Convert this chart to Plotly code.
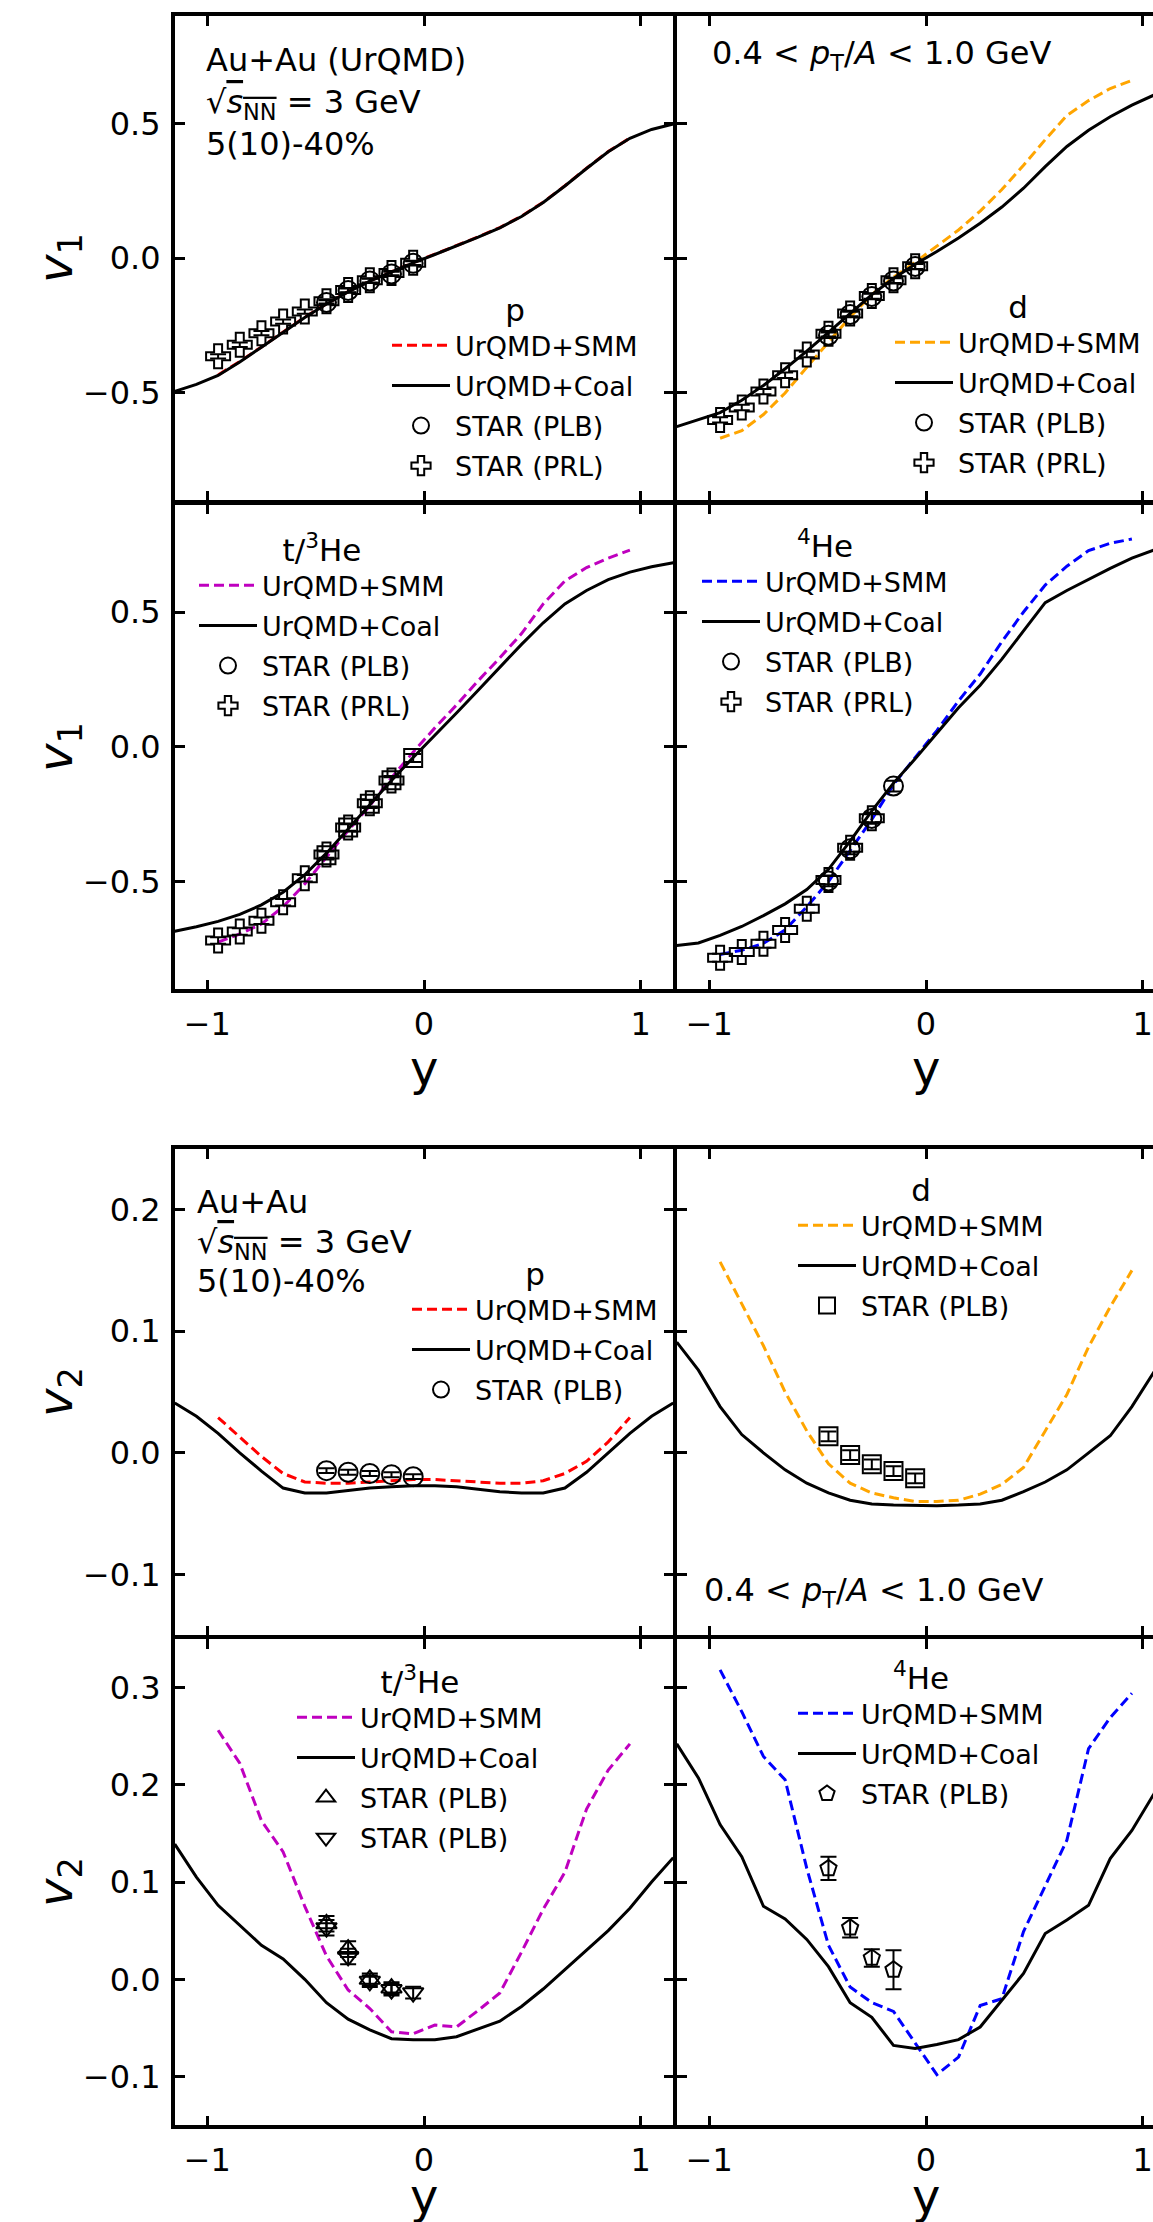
import plotly.graph_objects as go

FONT = "DejaVu Sans"
W, H = 1153, 2222

# ---------------- rapidity grids ----------------
Y_MODEL = [-1.15, -1.05, -0.95, -0.85, -0.75, -0.65, -0.55, -0.45, -0.35, -0.25, -0.15, -0.05,
           0.05, 0.15, 0.25, 0.35, 0.45, 0.55, 0.65, 0.75, 0.85, 0.95, 1.05, 1.15]
Y_SMM = [-0.95, -0.85, -0.75, -0.65, -0.55, -0.45, -0.35, -0.25, -0.15, -0.05,
         0.05, 0.15, 0.25, 0.35, 0.45, 0.55, 0.65, 0.75, 0.85, 0.95]
Y_PLB5 = [-0.45, -0.35, -0.25, -0.15, -0.05]
Y_PLB4 = [-0.45, -0.35, -0.25, -0.15]
Y_PRL10 = [-0.95, -0.85, -0.75, -0.65, -0.55, -0.45, -0.35, -0.25, -0.15, -0.05]
Y_PRL9 = [-0.95, -0.85, -0.75, -0.65, -0.55, -0.45, -0.35, -0.25, -0.15]
Y_PRL8 = [-0.95, -0.85, -0.75, -0.65, -0.55, -0.45, -0.35, -0.25]

# ---------------- directed flow v1 ----------------
V1_P_COAL = [-0.494, -0.468, -0.435, -0.385, -0.33, -0.275, -0.22, -0.17, -0.125, -0.085, -0.05, -0.017,
             0.014, 0.045, 0.078, 0.113, 0.155, 0.207, 0.268, 0.333, 0.395, 0.445, 0.478, 0.498]
V1_P_SMM = [-0.433, -0.383, -0.329, -0.274, -0.219, -0.169, -0.124, -0.084, -0.049, -0.016,
            0.015, 0.046, 0.079, 0.114, 0.156, 0.208, 0.269, 0.334, 0.396, 0.446]
V1_P_PLB = [-0.164, -0.12, -0.084, -0.058, -0.019]
V1_P_PLB_ERR = [0.008, 0.008, 0.008, 0.008, 0.008]
V1_P_PRL = [-0.364, -0.321, -0.278, -0.235, -0.198, -0.16, -0.118, -0.082, -0.055, -0.017]
V1_P_PRL_ERR = [0.008, 0.008, 0.008, 0.008, 0.008, 0.008, 0.008, 0.008, 0.008, 0.008]

V1_D_COAL = [-0.625, -0.60, -0.573, -0.527, -0.472, -0.41, -0.345, -0.275, -0.205, -0.135, -0.075, -0.022,
             0.025, 0.075, 0.13, 0.19, 0.26, 0.34, 0.415, 0.475, 0.525, 0.568, 0.605, 0.63]
V1_D_SMM = [-0.668, -0.64, -0.58, -0.50, -0.405, -0.312, -0.218, -0.135, -0.07, -0.015,
            0.045, 0.105, 0.175, 0.255, 0.345, 0.44, 0.53, 0.585, 0.63, 0.66]
V1_D_PLB = [-0.286, -0.209, -0.142, -0.084, -0.031]
V1_D_PLB_ERR = [0.01, 0.01, 0.01, 0.01, 0.01]
V1_D_PRL = [-0.60, -0.554, -0.495, -0.434, -0.357, -0.28, -0.205, -0.14, -0.082, -0.03]
V1_D_PRL_ERR = [0.01, 0.01, 0.01, 0.01, 0.01, 0.01, 0.01, 0.01, 0.01, 0.01]

V1_T_COAL = [-0.685, -0.668, -0.648, -0.622, -0.587, -0.54, -0.475, -0.395, -0.305, -0.215, -0.125, -0.04,
             0.042, 0.125, 0.21, 0.295, 0.38, 0.46, 0.53, 0.58, 0.62, 0.648, 0.668, 0.683]
V1_T_SMM = [-0.725, -0.695, -0.658, -0.594, -0.509, -0.41, -0.311, -0.219, -0.115, -0.02,
            0.07, 0.155, 0.245, 0.33, 0.42, 0.53, 0.615, 0.665, 0.70, 0.73]
V1_T_PLB = [-0.403, -0.30, -0.212, -0.124, -0.042]
V1_T_PLB_ERR = [0.015, 0.015, 0.015, 0.015, 0.015]
V1_T_PRL = [-0.719, -0.686, -0.646, -0.577, -0.488, -0.40, -0.30, -0.21, -0.125]
V1_T_PRL_ERR = [0.012, 0.012, 0.012, 0.012, 0.012, 0.012, 0.012, 0.012, 0.012]

V1_HE_COAL = [-0.738, -0.728, -0.70, -0.667, -0.627, -0.583, -0.53, -0.455, -0.35, -0.238, -0.135, -0.045,
              0.05, 0.145, 0.228, 0.325, 0.43, 0.535, 0.58, 0.622, 0.662, 0.70, 0.73, 0.75]
V1_HE_SMM = [-0.771, -0.755, -0.73, -0.68, -0.594, -0.50, -0.385, -0.27, -0.14, -0.04,
             0.06, 0.17, 0.27, 0.39, 0.50, 0.60, 0.67, 0.728, 0.755, 0.771]
V1_HE_PLB = [-0.498, -0.379, -0.266, -0.146]
V1_HE_PLB_ERR = [0.02, 0.02, 0.02, 0.02]
V1_HE_PRL = [-0.783, -0.762, -0.731, -0.68, -0.601, -0.495, -0.375, -0.265]
V1_HE_PRL_ERR = [0.015, 0.015, 0.015, 0.015, 0.015, 0.015, 0.015, 0.015]

# ---------------- elliptic flow v2 ----------------
V2_P_COAL = [0.041, 0.030, 0.016, 0.000, -0.015, -0.029, -0.033, -0.033, -0.031, -0.029, -0.028, -0.027,
             -0.027, -0.028, -0.030, -0.032, -0.033, -0.033, -0.029, -0.016, 0.000, 0.016, 0.030, 0.041]
V2_P_SMM = [0.029, 0.013, -0.003, -0.017, -0.024, -0.025, -0.025, -0.024, -0.023, -0.022,
            -0.022, -0.023, -0.024, -0.025, -0.025, -0.023, -0.017, -0.007, 0.009, 0.029]
V2_P_PLB = [-0.0147, -0.016, -0.017, -0.018, -0.0196]
V2_P_PLB_ERR = [0.002, 0.002, 0.002, 0.002, 0.002]

V2_D_COAL = [0.091, 0.068, 0.038, 0.015, 0.000, -0.014, -0.025, -0.033, -0.039, -0.042, -0.043, -0.0435,
             -0.0435, -0.043, -0.042, -0.039, -0.032, -0.024, -0.014, 0.000, 0.014, 0.038, 0.066, 0.09]
V2_D_SMM = [0.157, 0.122, 0.088, 0.050, 0.018, -0.009, -0.025, -0.033, -0.037, -0.040,
            -0.040, -0.039, -0.034, -0.026, -0.012, 0.018, 0.048, 0.087, 0.120, 0.150]
V2_D_PLB = [0.0136, -0.0019, -0.0095, -0.015, -0.021]
V2_D_PLB_ERR = [0.004, 0.004, 0.004, 0.004, 0.004]

V2_T_COAL = [0.139, 0.105, 0.076, 0.055, 0.035, 0.021, 0.000, -0.024, -0.041, -0.052, -0.061, -0.062,
             -0.062, -0.059, -0.051, -0.043, -0.028, -0.010, 0.010, 0.030, 0.050, 0.073, 0.100, 0.125]
V2_T_SMM = [0.256, 0.222, 0.163, 0.131, 0.075, 0.024, -0.011, -0.030, -0.054, -0.056,
            -0.047, -0.049, -0.032, -0.014, 0.028, 0.072, 0.110, 0.175, 0.215, 0.242]
V2_T_UP = [0.057, 0.031, 0.0, -0.009]
V2_T_UP_ERR = [0.008, 0.008, 0.006, 0.006]
V2_T_DOWN = [0.053, 0.0235, -0.002, -0.0106, -0.0137]
V2_T_DOWN_ERR = [0.008, 0.008, 0.006, 0.006, 0.006]

V2_HE_COAL = [0.242, 0.207, 0.159, 0.126, 0.075, 0.062, 0.041, 0.013, -0.024, -0.039, -0.068, -0.071,
              -0.067, -0.062, -0.049, -0.022, 0.006, 0.047, 0.061, 0.076, 0.124, 0.153, 0.19, 0.23]
V2_HE_SMM = [0.318, 0.275, 0.229, 0.205, 0.114, 0.035, -0.008, -0.024, -0.033, -0.065,
             -0.098, -0.080, -0.027, -0.020, 0.049, 0.096, 0.143, 0.237, 0.269, 0.294]
V2_HE_PLB = [0.114, 0.053, 0.022, 0.0098]
V2_HE_PLB_ERR = [0.012, 0.010, 0.009, 0.020]

# ---------------- styling ----------------
SMM_COLORS = {"p": "#ff0000", "d": "#ffa500", "t": "#bf00bf", "he": "#0000ff"}
DASH = "10px,5px"
NAME_SMM, NAME_COAL = "UrQMD+SMM", "UrQMD+Coal"
NAME_PLB, NAME_PRL = "STAR (PLB)", "STAR (PRL)"
TITLE_P, TITLE_D = "p", "d"
TITLE_T, TITLE_HE = "t/<sup>3</sup>He", "<sup>4</sup>He"

# pixel layout of the eight frames (frame-line centres)
LW = 3.5
HALF = LW / 2
COLS = {"L": (173, 675), "R": (675, 1153)}
ROWS = {"v1a": (14, 502.5), "v1b": (502.5, 991), "v2a": (1147, 1637), "v2b": (1637, 2127)}
PX_PER_UNIT = (675 - 173 - LW) / 2.3
X_RANGE = {"L": [-1.15, 1.15], "R": [-1.15, -1.15 + (1153 - 675 - HALF) / PX_PER_UNIT]}
Y_RANGE = {"v1a": [-0.9, 0.9], "v1b": [-0.9, 0.9], "v2a": [-0.15, 0.25], "v2b": [-0.15, 0.35]}
Y_TICKS = {"v1a": [-0.5, 0.0, 0.5], "v1b": [-0.5, 0.0, 0.5],
           "v2a": [-0.1, 0.0, 0.1, 0.2], "v2b": [-0.1, 0.0, 0.1, 0.2, 0.3]}

# legend anchor: (line-sample start px, title centre px)
LEGEND_POS = {1: (392, 302), 2: (895, 299), 3: (199, 542), 4: (702, 538),
              5: (412, 1266), 6: (798, 1182), 7: (297, 1674), 8: (798, 1670)}


def fx(p):
    return p / W


def fy(p):
    return 1 - p / H


fig = go.Figure()


def sid(i):
    return "" if i == 1 else str(i)


def add_curves(i, smm, color, coal):
    leg = "legend" + sid(i)
    fig.add_trace(go.Scatter(x=Y_SMM, y=smm, mode="lines", name=NAME_SMM,
                             line=dict(color=color, width=3, dash=DASH),
                             xaxis="x" + sid(i), yaxis="y" + sid(i), legend=leg,
                             legendgroup=f"g{i}a"))
    fig.add_trace(go.Scatter(x=Y_MODEL, y=coal, mode="lines", name=NAME_COAL,
                             line=dict(color="black", width=3),
                             xaxis="x" + sid(i), yaxis="y" + sid(i), legend=leg,
                             legendgroup=f"g{i}b"))


def add_points(i, x, y, err, symbol, name, size=19, show=True, group="c"):
    fig.add_trace(go.Scatter(
        x=x, y=y, mode="markers", name=name, showlegend=show,
        marker=dict(symbol=symbol, size=size, color="black", line=dict(color="black", width=2)),
        error_y=dict(type="data", array=err, visible=True, color="black", thickness=2, width=8),
        xaxis="x" + sid(i), yaxis="y" + sid(i), legend="legend" + sid(i),
        legendgroup=f"g{i}{group}"))


def add_legend_key(i, symbol, name, group):
    # legend-only key (no data points)
    fig.add_trace(go.Scatter(
        x=[None], y=[None], mode="markers", name=name,
        marker=dict(symbol=symbol, size=19, color="black", line=dict(color="black", width=2)),
        xaxis="x" + sid(i), yaxis="y" + sid(i), legend="legend" + sid(i),
        legendgroup=f"g{i}{group}"))


# v1: protons
add_curves(1, V1_P_SMM, SMM_COLORS["p"], V1_P_COAL)
add_points(1, Y_PLB5, V1_P_PLB, V1_P_PLB_ERR, "circle-open", NAME_PLB, group="c")
add_points(1, Y_PRL10, V1_P_PRL, V1_P_PRL_ERR, "cross-open", NAME_PRL, size=20, group="d")
# v1: deuterons
add_curves(2, V1_D_SMM, SMM_COLORS["d"], V1_D_COAL)
add_points(2, Y_PLB5, V1_D_PLB, V1_D_PLB_ERR, "circle-open", NAME_PLB, group="c")
add_points(2, Y_PRL10, V1_D_PRL, V1_D_PRL_ERR, "cross-open", NAME_PRL, size=20, group="d")
# v1: t / 3He
add_curves(3, V1_T_SMM, SMM_COLORS["t"], V1_T_COAL)
add_legend_key(3, "circle-open", NAME_PLB, "c")
add_points(3, Y_PLB5, V1_T_PLB, V1_T_PLB_ERR, "square-open", NAME_PLB, size=18, show=False, group="c")
add_points(3, Y_PRL9, V1_T_PRL, V1_T_PRL_ERR, "cross-open", NAME_PRL, size=20, group="d")
# v1: 4He
add_curves(4, V1_HE_SMM, SMM_COLORS["he"], V1_HE_COAL)
add_points(4, Y_PLB4, V1_HE_PLB, V1_HE_PLB_ERR, "circle-open", NAME_PLB, group="c")
add_points(4, Y_PRL8, V1_HE_PRL, V1_HE_PRL_ERR, "cross-open", NAME_PRL, size=20, group="d")
# v2: protons
add_curves(5, V2_P_SMM, SMM_COLORS["p"], V2_P_COAL)
add_points(5, Y_PLB5, V2_P_PLB, V2_P_PLB_ERR, "circle-open", NAME_PLB, group="c")
# v2: deuterons
add_curves(6, V2_D_SMM, SMM_COLORS["d"], V2_D_COAL)
add_points(6, Y_PLB5, V2_D_PLB, V2_D_PLB_ERR, "square-open", NAME_PLB, size=18, group="c")
# v2: t / 3He
add_curves(7, V2_T_SMM, SMM_COLORS["t"], V2_T_COAL)
add_points(7, Y_PLB4, V2_T_UP, V2_T_UP_ERR, "triangle-up-open", NAME_PLB, size=18, group="c")
add_points(7, Y_PLB5, V2_T_DOWN, V2_T_DOWN_ERR, "triangle-down-open", NAME_PLB, size=18, group="d")
# v2: 4He
add_curves(8, V2_HE_SMM, SMM_COLORS["he"], V2_HE_COAL)
add_points(8, Y_PLB4, V2_HE_PLB, V2_HE_PLB_ERR, "pentagon-open", NAME_PLB, size=17, group="c")

PANELS = [
    (1, "L", "v1a", TITLE_P, False), (2, "R", "v1a", TITLE_D, False),
    (3, "L", "v1b", TITLE_T, True), (4, "R", "v1b", TITLE_HE, True),
    (5, "L", "v2a", TITLE_P, False), (6, "R", "v2a", TITLE_D, False),
    (7, "L", "v2b", TITLE_T, True), (8, "R", "v2b", TITLE_HE, True),
]

tickfont = dict(family=FONT, size=32, color="black")
layout = dict(
    width=W, height=H, margin=dict(l=0, r=0, t=0, b=0),
    paper_bgcolor="white", plot_bgcolor="white",
    font=dict(family=FONT, color="black"),
    hovermode=False,
)

for i, col, row, title, bottom in PANELS:
    x0, x1 = COLS[col]
    ytop, ybot = ROWS[row]
    # axis lines sit half a line width outside the domain, so shrink the domain
    # to make neighbouring frames share one line
    dx0 = x0 + HALF
    dx1 = x1 - HALF if col == "L" else x1
    layout["xaxis" + sid(i)] = dict(
        domain=[fx(dx0), fx(dx1)], range=X_RANGE[col], anchor="y" + sid(i),
        tickvals=[-1, 0, 1], ticks="inside", ticklen=10, tickwidth=3, tickcolor="black",
        showline=True, linewidth=LW, linecolor="black", mirror="allticks",
        showgrid=False, zeroline=False, showticklabels=bottom, tickfont=tickfont,
        ticklabelstandoff=4, ticklabeloverflow="allow",
    )
    layout["yaxis" + sid(i)] = dict(
        domain=[fy(ybot - HALF), fy(ytop + HALF)], range=Y_RANGE[row], anchor="x" + sid(i),
        tickvals=Y_TICKS[row], tickformat=".1f", ticks="inside", ticklen=10, tickwidth=3,
        tickcolor="black", showline=True, linewidth=LW, linecolor="black",
        mirror="allticks" if col == "L" else False,
        showgrid=False, zeroline=False, showticklabels=(col == "L"), tickfont=tickfont,
        ticklabelstandoff=4,
    )
    lx, ty = LEGEND_POS[i]
    layout["legend" + sid(i)] = dict(
        x=fx(lx - 5), y=fy(ty - 21), xanchor="left", yanchor="top",
        bgcolor="rgba(0,0,0,0)", borderwidth=0, itemwidth=58, tracegroupgap=2,
        font=dict(family=FONT, size=27, color="black"),
        title=dict(text=title, side="top center", font=dict(family=FONT, size=31, color="black")),
    )

annotations = []
TXT = dict(family=FONT, size=32, color="black")
SQRT_S = "\u221a<span style='text-decoration:overline'><i>s</i><sub>NN</sub></span> = 3 GeV"
PT_CUT = "0.4 &lt; <i>p</i><sub>T</sub>/<i>A</i> &lt; 1.0 GeV"
for text, x, y in [("Au+Au (UrQMD)", 204, 60), (SQRT_S, 204, 104), ("5(10)-40%", 204, 144),
                   (PT_CUT, 710, 55),
                   ("Au+Au", 195, 1202), (SQRT_S, 195, 1244), ("5(10)-40%", 195, 1281),
                   (PT_CUT, 702, 1592)]:
    annotations.append(dict(text=text, x=fx(x), y=fy(y), xref="paper", yref="paper",
                            xanchor="left", yanchor="middle", showarrow=False, font=TXT))

AX_TITLE = dict(family=FONT, size=48, color="black")
for label, yc in [("<i>v</i><sub>1</sub>", 258), ("<i>v</i><sub>1</sub>", 747),
                  ("<i>v</i><sub>2</sub>", 1392), ("<i>v</i><sub>2</sub>", 1882)]:
    annotations.append(dict(text=label, x=fx(58), y=fy(yc), xref="paper", yref="paper",
                            xanchor="center", yanchor="middle", textangle=-90,
                            showarrow=False, font=AX_TITLE))
for xc in (424, 926):
    for yc in (1068, 2196):
        annotations.append(dict(text="y", x=fx(xc), y=fy(yc), xref="paper", yref="paper",
                                xanchor="center", yanchor="middle", showarrow=False, font=AX_TITLE))

layout["annotations"] = annotations
fig.update_layout(**layout)
fig.write_html("out.html")
